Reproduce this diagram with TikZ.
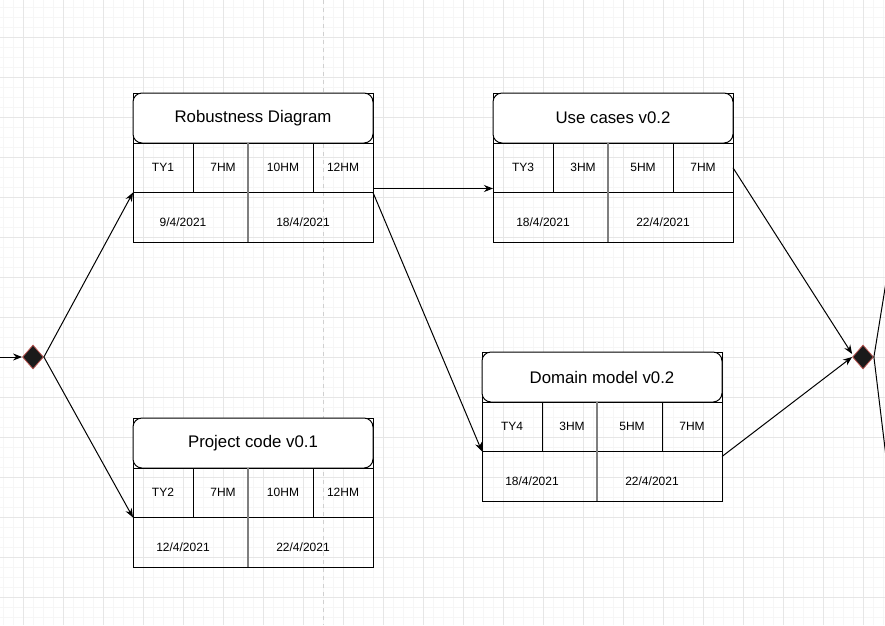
\documentclass[tikz,border=0pt]{standalone}
\usepackage{fontspec}
\setmainfont{Liberation Sans}
\usetikzlibrary{shapes.geometric,arrows.meta,calc}
\definecolor{gridminor}{HTML}{F6F6F6}
\definecolor{gridmajor}{HTML}{E6E6E6}
\definecolor{pagedash}{HTML}{D0D0D0}
\definecolor{divgrey}{HTML}{7F7F7F}
\definecolor{dfill}{HTML}{1A1A1A}
\definecolor{dline}{HTML}{B85450}
\begin{document}
\begin{tikzpicture}[x=1pt,y=-1pt,
  frame/.style={draw, line width=1pt, minimum width=240pt, minimum height=149pt, anchor=north west, inner sep=0pt, outer sep=0pt},
  titlebox/.style={draw, fill=white, line width=1pt, rounded corners=9pt, minimum width=240pt, minimum height=50pt, anchor=north west, inner sep=0pt, outer sep=0pt, font=\fontsize{16.8}{20}\selectfont},
  cell/.style={draw, line width=1pt, minimum height=49.5pt, anchor=north west, inner sep=0pt, outer sep=0pt, font=\fontsize{12}{14}\selectfont},
  datetxt/.style={inner sep=0pt, font=\fontsize{12}{14}\selectfont},
  gate/.style={diamond, draw=dline, fill=dfill, line width=0.8pt, minimum width=21pt, minimum height=24pt, inner sep=0pt},
  arr/.style={draw, line width=1pt, -{Stealth[length=9pt,width=7pt]}},
  plain/.style={draw, line width=1pt},
  divider/.style={draw=divgrey, line width=2pt}
]
\useasboundingbox (0,0) rectangle (885,625);
\fill[white] (0,0) rectangle (885,625);
% grid
\foreach \x in {3,13,...,883} \draw[gridminor, line width=1pt] (\x,0) -- (\x,625);
\foreach \y in {7,17,...,617} \draw[gridminor, line width=1pt] (0,\y) -- (885,\y);
\foreach \x in {23,63,...,863} \draw[gridmajor, line width=1pt] (\x,0) -- (\x,625);
\foreach \y in {37,77,...,597} \draw[gridmajor, line width=1pt] (0,\y) -- (885,\y);
\draw[pagedash, line width=1pt, dash pattern=on 4pt off 4pt] (323,0) -- (323,625);

% ---------- Robustness Diagram ----------
\node[frame] (rb) at (133,93) {};
\node[titlebox] (rbt) at (133,93) {Robustness Diagram};
\node[cell, minimum width=60pt] (rbc1) at (rbt.south west) {TY1};
\node[cell, minimum width=55pt] (rbc2) at (rbc1.north east) {\hspace*{5pt}7HM};
\node[cell, minimum width=65pt] (rbc3) at (rbc2.north east) {\hspace*{5pt}10HM};
\node[cell, minimum width=60pt] (rbc4) at (rbc3.north east) {12HM};
\node[cell, minimum width=115pt] (rbd1) at (rbc1.south west) {};
\node[cell, minimum width=125pt] (rbd2) at (rbd1.north east) {};
\node[datetxt] at ([xshift=-7.5pt,yshift=-5pt]rbd1.center) {9/4/2021};
\node[datetxt] at ([xshift=-7.5pt,yshift=-5pt]rbd2.center) {18/4/2021};
\draw[divider] (rbc3.north west) -- (rbd2.south west);

% ---------- Use cases v0.2 ----------
\node[frame] (uc) at (493,93) {};
\node[titlebox] (uct) at (493,93) {Use cases v0.2};
\node[cell, minimum width=60pt] (ucc1) at (uct.south west) {TY3};
\node[cell, minimum width=55pt] (ucc2) at (ucc1.north east) {\hspace*{5pt}3HM};
\node[cell, minimum width=65pt] (ucc3) at (ucc2.north east) {\hspace*{5pt}5HM};
\node[cell, minimum width=60pt] (ucc4) at (ucc3.north east) {7HM};
\node[cell, minimum width=115pt] (ucd1) at (ucc1.south west) {};
\node[cell, minimum width=125pt] (ucd2) at (ucd1.north east) {};
\node[datetxt] at ([xshift=-7.5pt,yshift=-5pt]ucd1.center) {18/4/2021};
\node[datetxt] at ([xshift=-7.5pt,yshift=-5pt]ucd2.center) {22/4/2021};
\draw[divider] (ucc3.north west) -- (ucd2.south west);

% ---------- Domain model v0.2 ----------
\node[frame] (dm) at (482,352) {};
\node[titlebox] (dmt) at (482,352) {Domain model v0.2};
\node[cell, minimum width=60pt] (dmc1) at (dmt.south west) {TY4};
\node[cell, minimum width=55pt] (dmc2) at (dmc1.north east) {\hspace*{5pt}3HM};
\node[cell, minimum width=65pt] (dmc3) at (dmc2.north east) {\hspace*{5pt}5HM};
\node[cell, minimum width=60pt] (dmc4) at (dmc3.north east) {7HM};
\node[cell, minimum width=115pt] (dmd1) at (dmc1.south west) {};
\node[cell, minimum width=125pt] (dmd2) at (dmd1.north east) {};
\node[datetxt] at ([xshift=-7.5pt,yshift=-5pt]dmd1.center) {18/4/2021};
\node[datetxt] at ([xshift=-7.5pt,yshift=-5pt]dmd2.center) {22/4/2021};
\draw[divider] (dmc3.north west) -- (dmd2.south west);

% ---------- Project code v0.1 ----------
\node[frame] (pc) at (133,418) {};
\node[titlebox] (pct) at (133,418) {Project code v0.1};
\node[cell, minimum width=60pt] (pcc1) at (pct.south west) {TY2};
\node[cell, minimum width=55pt] (pcc2) at (pcc1.north east) {\hspace*{5pt}7HM};
\node[cell, minimum width=65pt] (pcc3) at (pcc2.north east) {\hspace*{5pt}10HM};
\node[cell, minimum width=60pt] (pcc4) at (pcc3.north east) {12HM};
\node[cell, minimum width=115pt] (pcd1) at (pcc1.south west) {};
\node[cell, minimum width=125pt] (pcd2) at (pcd1.north east) {};
\node[datetxt] at ([xshift=-7.5pt,yshift=-5pt]pcd1.center) {12/4/2021};
\node[datetxt] at ([xshift=-7.5pt,yshift=-5pt]pcd2.center) {22/4/2021};
\draw[divider] (pcc3.north west) -- (pcd2.south west);

% ---------- gates ----------
\node[gate] (d1) at (33,357) {};
\node[gate] (d2) at (863,357) {};
\coordinate (in) at (-2,357);
\coordinate (o1) at (887,276);
\coordinate (o2) at (887,465);

% ---------- connectors ----------
\draw[arr] (in) -- (d1.west);
\draw[arr] (d1.east) -- (rbc1.south west);
\draw[arr] (d1.east) -- (pcc1.south west);
\draw[arr] ([yshift=4pt]rbc4.south east) -- ([yshift=4pt]ucc1.south west);
\draw[arr] (rbc4.south east) -- (dmd1.north west);
\draw[arr] (ucc4.east) -- ([yshift=3pt]d2.west);
\draw[arr] ([yshift=-5pt]dmd2.north east) -- (d2.west);
\draw[plain] (d2.east) -- (o1);
\draw[plain] (d2.east) -- (o2);
\end{tikzpicture}
\end{document}
